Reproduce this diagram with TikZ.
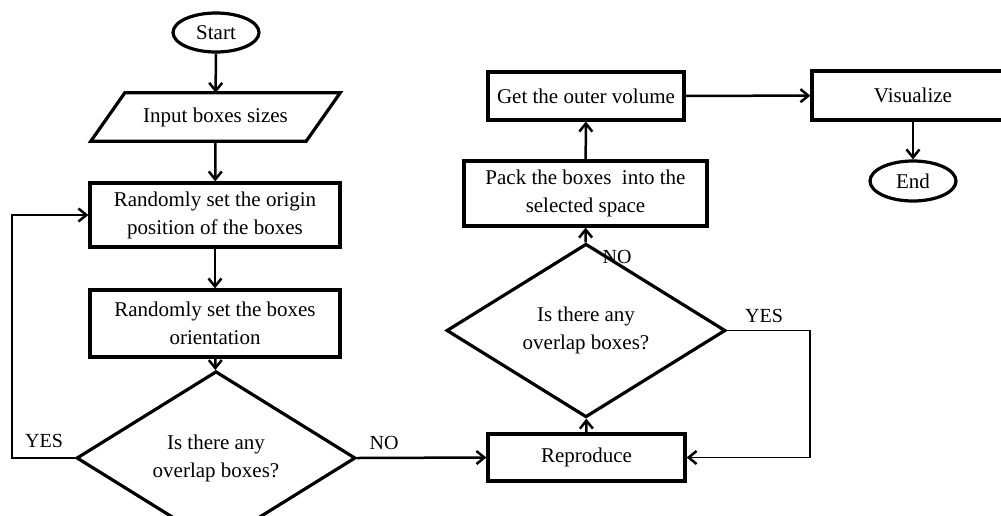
\documentclass[tikz,border=0pt]{standalone}
\usepackage{fontspec}
\setmainfont{Liberation Serif}
\usetikzlibrary{arrows.meta,shapes.geometric}
\begin{document}
\begin{tikzpicture}[x=1pt,y=-1pt,
  every node/.style={font=\fontsize{21}{28}\selectfont, align=center, inner sep=0pt},
  procbox/.style={draw, line width=3.2pt, rectangle},
  termbox/.style={draw, line width=3.2pt, ellipse},
  decbox/.style={draw, line width=3.2pt, diamond, minimum width=279pt, minimum height=126pt},
  flow/.style={line width=2.5pt, -{Straight Barb[length=8pt,width=13pt]}},
  loopline/.style={line width=1.8pt, -{Straight Barb[length=8pt,width=13pt,line width=2.5pt]}},
  lbl/.style={font=\fontsize{20}{24}\selectfont}
]
\useasboundingbox (0,0) rectangle (1001,515);
\fill[white] (0,0) rectangle (1001,515);
\begin{scope}
\clip (0,0) rectangle (1001,515);
% left column
\node[termbox, minimum width=86pt, minimum height=39pt] (start) at (216,32.5) {Start};
\node[minimum width=215pt, minimum height=48pt] (in) at (215.5,117) {Input boxes sizes};
\draw[line width=3.2pt] ([xshift=17pt]in.north west) -- ([xshift=17pt]in.north east)
   -- ([xshift=-17pt]in.south east) -- ([xshift=-17pt]in.south west) -- cycle;
\node[procbox, minimum width=250pt, minimum height=64pt] (b1) at (215,215) {Randomly set the origin\\position of the boxes};
\node[procbox, minimum width=250pt, minimum height=67pt] (b2) at (215,323.5) {Randomly set the boxes\\orientation};
\node[decbox] (d1) at (216,458) {Is there any\\overlap boxes?};
% middle column
\node[procbox, minimum width=197pt, minimum height=47pt] (rep) at (586.5,457.5) {Reproduce};
\node[decbox] (d2) at (586,330.5) {Is there any\\overlap boxes?};
\node[procbox, minimum width=243pt, minimum height=65pt] (pack) at (585.5,193.5) {Pack the boxes\ \ into the\\selected space};
\node[procbox, minimum width=196pt, minimum height=48pt] (get) at (586,96) {Get the outer volume};
% right column
\node[procbox, minimum width=202pt, minimum height=49pt] (vis) at (913,95.5) {Visualize};
\node[termbox, minimum width=86pt, minimum height=40pt] (end) at (913,181) {End};
% connectors
\draw[flow] (start) -- (in);
\draw[flow] (in.south) -- (b1);
\draw[flow] (b1) -- (b2);
\draw[flow] (b2) -- (d1);
\coordinate (lp) at (12,458);
\draw[loopline] (d1.west) -- (lp) |- (b1.west);
\draw[flow] (d1.east) -- (rep.west);
\draw[flow] (rep) -- (d2);
\coordinate (rp) at (810,330.5);
\draw[loopline] (d2.east) -- (rp) |- (rep.east);
\draw[flow] (d2) -- (pack);
\draw[flow] (pack) -- (get);
\draw[flow] (get) -- (vis);
\draw[flow] (vis) -- (end);
% labels
\node[lbl] (yes1) at (44,441) {YES};
\node[lbl] (no1) at (384,443) {NO};
\node[lbl] (yes2) at (764,316) {YES};
\node[lbl] (no2) at (617,257) {NO};
\end{scope}
\end{tikzpicture}
\end{document}
